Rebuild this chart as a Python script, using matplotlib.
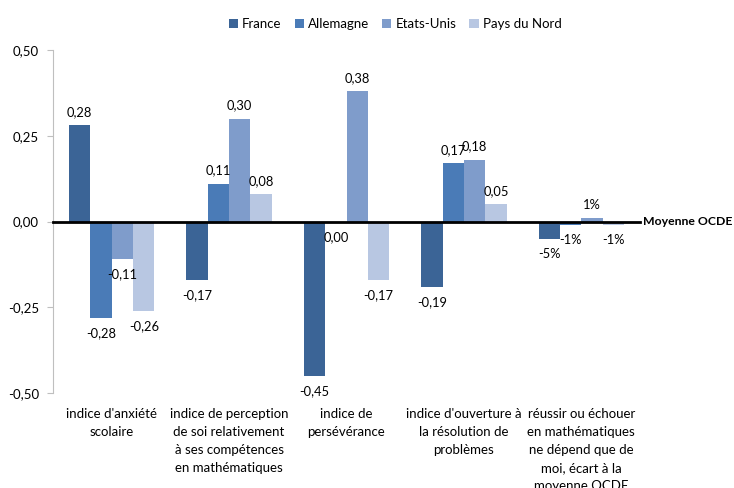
import matplotlib
matplotlib.use("Agg")
import matplotlib.pyplot as plt
import numpy as np
from matplotlib.patches import Patch

plt.rcParams['font.family'] = ['Lato', 'DejaVu Sans']

categories = [
    "indice d'anxiété\nscolaire",
    "indice de perception\nde soi relativement\nà ses compétences\nen mathématiques",
    "indice de\npersévérance",
    "indice d'ouverture à\nla résolution de\nproblèmes",
    "réussir ou échouer\nen mathématiques\nne dépend que de\nmoi, écart à la\nmoyenne OCDE",
]
series_names = ["France", "Allemagne", "Etats-Unis", "Pays du Nord"]
france = [0.28, -0.17, -0.45, -0.19, -0.05]
allemagne = [-0.28, 0.11, 0.00, 0.17, -0.01]
etats_unis = [-0.11, 0.30, 0.38, 0.18, 0.01]
pays_nord = [-0.26, 0.08, -0.17, 0.05, -0.01]
yticks = [-0.50, -0.25, 0.00, 0.25, 0.50]

colors = ["#3B6496", "#4A7BB7", "#7F9CCB", "#B8C7E2"]
series = [france, allemagne, etats_unis, pays_nord]

W, H = 734, 488
fig = plt.figure(figsize=(W / 100, H / 100), dpi=100)
ax = fig.add_axes([53 / W, (H - 393) / H, (640 - 53) / W, (393 - 50) / H])

x = np.arange(len(categories))
bw = 0.182
for k, (vals, col) in enumerate(zip(series, colors)):
    offs = (k - 1.5) * bw
    ax.bar(x + offs, vals, width=bw, color=col, zorder=2)
    for i, v in enumerate(vals):
        if i == len(categories) - 1:
            lab = f"{round(v * 100):d}%"
        else:
            lab = f"{v:.2f}".replace(".", ",")
        if v > 0:
            dy = 9.5
        else:
            dy = -11
        ax.annotate(lab, (x[i] + offs, v), xytext=(0, dy), textcoords="offset points",
                    ha="center", va="center", fontsize=9.3, color="#000000", zorder=4)

ax.set_xlim(-0.5, len(categories) - 0.5)
ax.set_ylim(-0.5, 0.5)
ax.set_yticks(yticks)
ax.set_yticklabels([f"{t:.2f}".replace(".", ",") for t in yticks], fontsize=9.5)
ax.tick_params(axis="y", length=4, color="#BFBFBF", pad=6)
ax.set_xticks([])
for s in ["top", "right", "bottom"]:
    ax.spines[s].set_visible(False)
ax.spines["left"].set_color("#BFBFBF")
ax.spines["left"].set_linewidth(0.8)

ax.axhline(0, color="black", lw=2, zorder=3, clip_on=False)
ax.annotate("Moyenne OCDE", (1.0, 0), xycoords=ax.get_yaxis_transform(), xytext=(2, 0),
            textcoords="offset points", ha="left", va="center",
            fontsize=8.8, fontweight="bold")

trans = ax.get_xaxis_transform()
for i, c in enumerate(categories):
    ax.text(x[i], -0.045, c, transform=trans, ha="center", va="top", fontsize=9.5,
            linespacing=1.6)

handles = [Patch(facecolor=c, edgecolor="none") for c in colors]
fig.legend(handles, series_names, loc="center", bbox_to_anchor=(395 / W, 1 - 24 / H),
           ncol=4, frameon=False, fontsize=9.5, handlelength=0.7, handleheight=0.7,
           handletextpad=0.3, columnspacing=1.0)

fig.savefig("out.png", dpi=100)
